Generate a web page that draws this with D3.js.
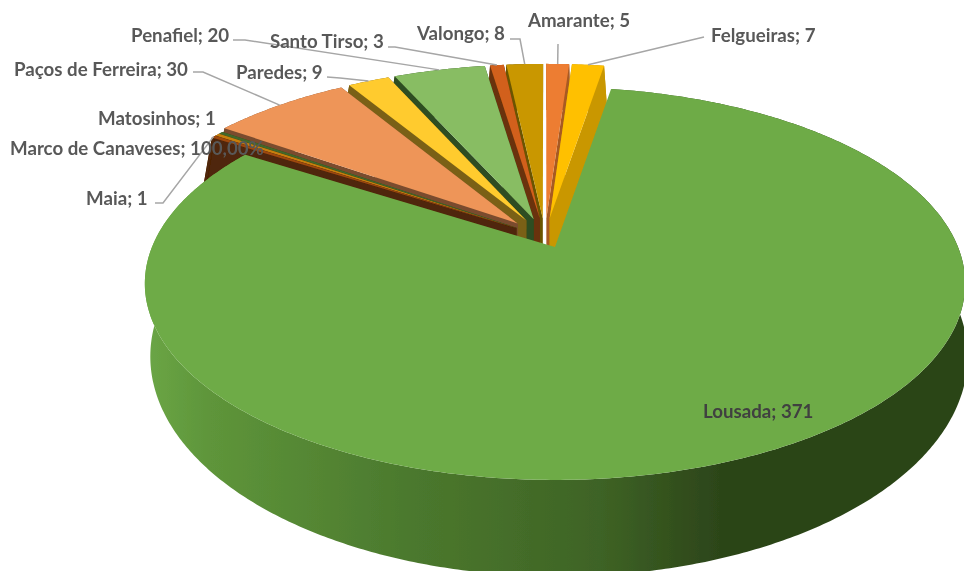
<!DOCTYPE html>
<html>
<head>
<meta charset="utf-8">
<script src="https://cdn.jsdelivr.net/npm/d3@7"></script>
<style>
html, body { margin: 0; padding: 0; background: #fff; overflow: hidden; }
svg { display: block; }
text { font-family: Lato, "Open Sans", sans-serif; }
</style>
</head>
<body>
<script>
var categories = ["Amarante", "Felgueiras", "Lousada", "Maia", "Marco de Canaveses", "Matosinhos",
                  "Paços de Ferreira", "Paredes", "Penafiel", "Santo Tirso", "Valongo"]
var values = [5, 7, 371, 1, 1, 1, 30, 9, 20, 3, 8]
var valueLabels = ["5", "7", "371", "1", "100,00%", "1", "30", "9", "20", "3", "8"]

var topColors = ["#ED7D31", "#FFC000", "#6EAB47", "#9E480E", "#C77F0A", "#43682B",
                 "#EE9558", "#FFCB2E", "#88BD64", "#D2601A", "#C99700"]
var wallColors = ["#A85A22", "#C99700", "#3E6325", "#4F2507", "#7A4A10", "#2C4519",
                  "#7A4C2E", "#7A6115", "#2F4D20", "#6B3208", "#6B5500"]

// left x, middle y of each label, then the elbow of its leader (null = no leader)
var labelX = [528, 711, 703, 86, 10, 98, 14, 236, 131, 270, 417]
var labelY = [20, 35, 411, 198, 148, 118, 69, 72, 35, 41, 33]
var leaders = [
    [[558, 44]],
    [[704, 37]],
    null,
    [[155, 203], [163, 203]],
    null,
    null,
    [[193, 72], [203, 72]],
    [[327, 77], [340, 78]],
    [[233, 40], [245, 40]],
    [[388, 47], [395, 47]],
    [[510, 39], [520, 39]]
]
var explodeBy = [0.1, 0.1, 0, 0.085, 0.085, 0.085, 0.1, 0.1, 0.1, 0.1, 0.1]

var width = 964
var height = 571
var bigIndex = 2

// perspective planes of the disc: top face and bottom face
// bigShift moves the big slice away from the others
var topPlane = {cx: 545, cy: 237, a: 403, b: 189.6, k: 0.186, bigShift: [10, 10]}
var bottomPlane = {cx: 545, cy: 317, a: 405, b: 216, k: 0.134, bigShift: [14, 10]}

var svg = d3.select("body").append("svg")
    .attr("width", width)
    .attr("height", height)
    .attr("viewBox", "0 0 " + width + " " + height)

var defs = svg.append("defs")
var grad = defs.append("linearGradient")
    .attr("id", "wallGrad")
    .attr("gradientUnits", "userSpaceOnUse")
    .attr("x1", 145).attr("x2", 964)
    .attr("y1", 0).attr("y2", 0)
var gradX = d3.scaleLinear().domain([145, 964]).range([0, 1])
var gradStops = [[145, "#6BA646"], [210, "#5E953A"], [400, "#4C7A2E"], [600, "#3E6325"], [720, "#2C4519"], [964, "#2C4519"]]
grad.selectAll("stop")
    .data(gradStops)
    .enter()
    .append("stop")
    .attr("offset", function(d) {return gradX(d[0]);})
    .attr("stop-color", function(d) {return d[1];})

// the reference is a soft, rescaled picture
defs.append("filter").attr("id", "soft")
    .attr("filterUnits", "userSpaceOnUse")
    .attr("x", 0).attr("y", 0).attr("width", width).attr("height", height)
    .append("feGaussianBlur").attr("stdDeviation", 0.45)

var pie = d3.pie().sort(null).value(function(d) {return d;})
var arcs = pie(values)

var line = d3.line()
var chart = svg.append("g").attr("filter", "url(#soft)")

function project(plane, slice, i, ang, r) {
    var mid = (slice.startAngle + slice.endAngle) / 2
    var d = explodeBy[i]
    var X = r * Math.sin(ang) + d * Math.sin(mid)
    var Y = -r * Math.cos(ang) - d * Math.cos(mid)
    var w = 1 - plane.k * Y
    var s = i == bigIndex ? plane.bigShift : [0, 0]
    return [plane.cx + s[0] + plane.a * X / w, plane.cy + s[1] + plane.b * Y / w]
}

function rimPoints(plane, slice, i) {
    var n = Math.max(2, Math.ceil((slice.endAngle - slice.startAngle) / 0.01))
    return d3.range(n + 1).map(function(j) {
        return project(plane, slice, i, slice.startAngle + (slice.endAngle - slice.startAngle) * j / n, 1)
    })
}

function drawSlice(i) {
    var slice = arcs[i]
    var g = chart.append("g").attr("class", "slice")
    var topRim = rimPoints(topPlane, slice, i)
    var botRim = rimPoints(bottomPlane, slice, i)
    var wallFill = i == bigIndex ? "url(#wallGrad)" : wallColors[i]

    g.append("path")
        .attr("d", line(topRim.concat(botRim.slice().reverse())) + "Z")
        .attr("fill", wallFill)

    if (i != bigIndex) {
        [slice.startAngle, slice.endAngle].forEach(function(ang) {
            g.append("path")
                .attr("d", line([
                    project(topPlane, slice, i, ang, 0),
                    project(topPlane, slice, i, ang, 1),
                    project(bottomPlane, slice, i, ang, 1),
                    project(bottomPlane, slice, i, ang, 0)
                ]) + "Z")
                .attr("fill", wallFill)
        })
    }

    g.append("path")
        .attr("d", line([project(topPlane, slice, i, 0, 0)].concat(topRim)) + "Z")
        .attr("fill", topColors[i])
}

// back to front, big slice last
var drawOrder = [10, 9, 8, 7, 0, 1, 6, 5, 4, 3, 2]
drawOrder.forEach(drawSlice)

// leader lines
var leaderGroup = chart.append("g").attr("fill", "none").attr("stroke", "#A6A6A6").attr("stroke-width", 1.5)
leaders.forEach(function(pts, i) {
    if (!pts) return
    var slice = arcs[i]
    var mid = (slice.startAngle + slice.endAngle) / 2
    var end = project(topPlane, slice, i, mid, 1)
    leaderGroup.append("path").attr("d", line(pts.concat([end])))
})

chart.append("g").selectAll("text")
    .data(categories)
    .enter()
    .append("text")
    .attr("x", function(d, i) {return labelX[i];})
    .attr("y", function(d, i) {return labelY[i];})
    .attr("dy", "0.35em")
    .attr("font-size", 18.7)
    .attr("font-weight", 700)
    .attr("fill", function(d, i) {return i == bigIndex ? "#404040" : "#595959";})
    .text(function(d, i) {return d + "; " + valueLabels[i];})
</script>
</body>
</html>
